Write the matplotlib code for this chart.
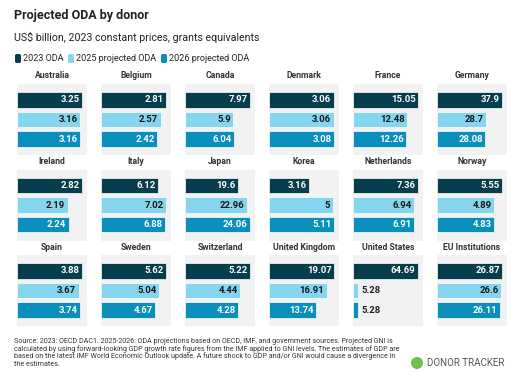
import matplotlib
matplotlib.use("Agg")
import matplotlib.pyplot as plt
from matplotlib.patches import FancyBboxPatch, Ellipse

plt.rcParams['font.family'] = ['Roboto', 'DejaVu Sans']

donors = ["Australia", "Belgium", "Canada", "Denmark", "France", "Germany",
          "Ireland", "Italy", "Japan", "Korea", "Netherlands", "Norway",
          "Spain", "Sweden", "Switzerland", "United Kingdom", "United States", "EU Institutions"]
oda_2023 = [3.25, 2.81, 7.97, 3.06, 15.05, 37.9, 2.82, 6.12, 19.6, 3.16, 7.36, 5.55,
            3.88, 5.62, 5.22, 19.07, 64.69, 26.87]
oda_2025 = [3.16, 2.57, 5.9, 3.06, 12.48, 28.7, 2.19, 7.02, 22.96, 5, 6.94, 4.89,
            3.67, 5.04, 4.44, 16.91, 5.28, 26.6]
oda_2026 = [3.16, 2.42, 6.04, 3.08, 12.26, 28.08, 2.24, 6.88, 24.06, 5.11, 6.91, 4.83,
            3.74, 4.67, 4.28, 13.74, 5.28, 26.11]
series_labels = ["2023 ODA", "2025 projected ODA", "2026 projected ODA"]
footer_lines = [
    "Source: 2023: OECD DAC1. 2025-2026: ODA projections based on OECD, IMF, and government sources. Projected GNI is",
    "calculated by using forward-looking GDP growth rate figures from the IMF applied to GNI levels. The estimates of GDP are",
    "based on the latest IMF World Economic Outlook update. A future shock to GDP and/or GNI would cause a divergence in",
    "the estimates.",
]

colors = ["#073e4e", "#85d5ef", "#0a8fbd"]
text_colors = ["white", "#151515", "white"]

W, H = 518, 376
fig = plt.figure(figsize=(W / 100, H / 100), dpi=100)
fig.patch.set_facecolor("white")

def fx(x):
    return x / W

def fy(y):
    return 1 - y / H

# Title / subtitle
fig.text(fx(14), fy(15), "Projected ODA by donor", fontsize=9.0, fontweight="bold",
         color="#222222", va="center", ha="left")
fig.text(fx(14), fy(37), "US$ billion, 2023 constant prices, grants equivalents", fontsize=7.7,
         color="#222222", va="center", ha="left")

# Legend
leg_x = [15, 68, 161]
for i, lab in enumerate(series_labels):
    x0 = leg_x[i]
    fig.patches.append(FancyBboxPatch((fx(x0), fy(63)), fx(6), 9 / H,
                                      boxstyle="round,pad=0,rounding_size=0.004",
                                      transform=fig.transFigure, facecolor=colors[i],
                                      edgecolor="none"))
    fig.text(fx(x0 + 8), fy(58.5), lab, fontsize=6.5, color="#222222", va="center", ha="left")

panel_w, panel_h = 70, 71
for k, name in enumerate(donors):
    r, c = divmod(k, 6)
    x0 = 17 + 84 * c
    top = 84 + 85.5 * r
    ax = fig.add_axes([fx(x0), fy(top + panel_h), fx(panel_w), panel_h / H])
    ax.set_facecolor("#f2f2f2")
    for s in ax.spines.values():
        s.set_visible(False)
    ax.set_xticks([])
    ax.set_yticks([])
    vals = [oda_2023[k], oda_2025[k], oda_2026[k]]
    vmax = max(vals)
    xmax = vmax * 1.075
    ax.set_xlim(0, xmax)
    ax.set_ylim(2.82, -0.82)
    ax.barh([0, 1, 2], vals, height=0.8, color=colors, edgecolor="white", linewidth=0.5)
    for i, v in enumerate(vals):
        bar_px = v / xmax * panel_w
        lab = f"{v:g}"
        if bar_px > 26:
            ax.text(v - xmax * 0.035, i, lab, ha="right", va="center", fontsize=6.8,
                    fontweight="bold", color=text_colors[i])
        else:
            ax.text(v + xmax * 0.04, i, lab, ha="left", va="center", fontsize=6.8,
                    fontweight="bold", color="#222222")
    fig.text(fx(x0 + panel_w / 2), fy(top - 8), name, ha="center", va="center",
             fontsize=6.2, fontweight="bold", color="#333333")

# Footer: one text per line, font size fitted so the widest line ends near x=398
fig.canvas.draw()
renderer = fig.canvas.get_renderer()
footer_texts = []
for j, line in enumerate(footer_lines):
    t = fig.text(fx(14), fy(341.5 + 7.5 * j), line, fontsize=5.7, color="#333333",
                 va="center", ha="left")
    footer_texts.append(t)
widest = max(t.get_window_extent(renderer).width for t in footer_texts)
fs = 5.7 * (398 - 14) / widest
fs = min(fs, 5.7)
for t in footer_texts:
    t.set_fontsize(fs)

# Logo
fig.patches.append(Ellipse((fx(417), fy(363)), 12 / W, 12 / H, transform=fig.transFigure,
                           facecolor="#6fbf4a", edgecolor="none"))
fig.text(fx(427), fy(363), "DONOR TRACKER", fontsize=7.0, color="#555555",
         va="center", ha="left")

fig.savefig("out.png", dpi=100, facecolor="white")
